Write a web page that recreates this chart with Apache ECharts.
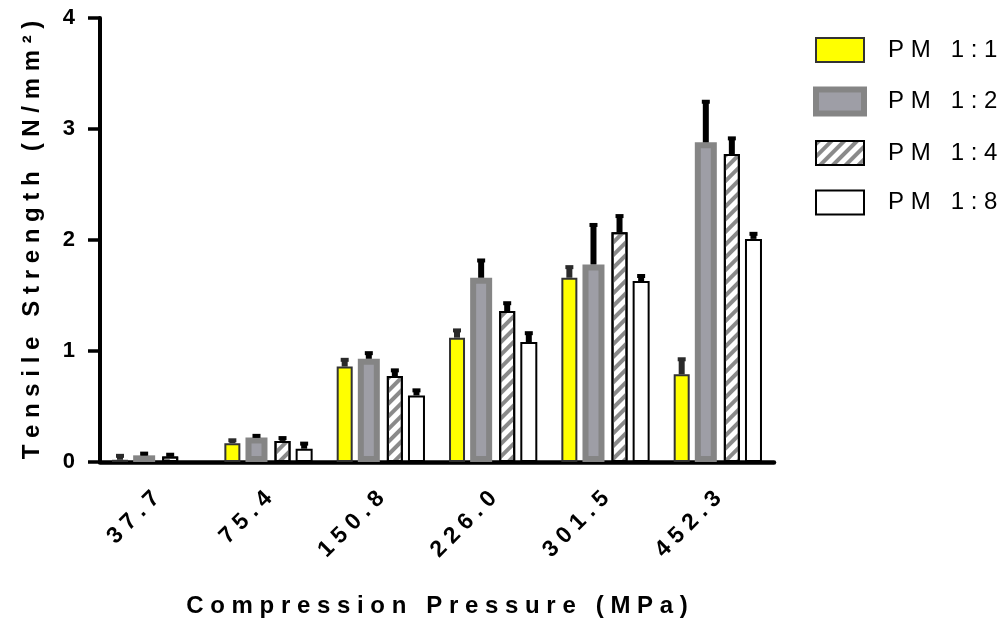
<!DOCTYPE html>
<html><head><meta charset="utf-8">
<script src="https://cdn.jsdelivr.net/npm/echarts@6/dist/echarts.min.js"></script>
<style>html,body{margin:0;padding:0;background:#fff}#c{width:1000px;height:623px}</style>
</head><body><div id="c"></div>
<script>
// ---- data ----
const categories = ['37.7', '75.4', '150.8', '226.0', '301.5', '452.3'];
const seriesNames = ['PM 1:1', 'PM 1:2', 'PM 1:4', 'PM 1:8'];
const pm11 = [0.02, 0.17, 0.86, 1.12, 1.66, 0.79];
const pm12 = [0.06, 0.22, 0.93, 1.66, 1.78, 2.88];
const pm14 = [0.05, 0.19, 0.775, 1.36, 2.07, 2.775];
const pm18 = [0, 0.12, 0.60, 1.08, 1.63, 2.01];
const err11 = [0.04, 0.03, 0.065, 0.07, 0.10, 0.14];
const err12 = [0.02, 0.02, 0.055, 0.16, 0.36, 0.37];
const err14 = [0.02, 0.03, 0.055, 0.075, 0.15, 0.145];
const err18 = [0, 0.05, 0.05, 0.085, 0.05, 0.05];
const yTicks = [0, 1, 2, 3, 4];
const xTitle = 'Compression Pressure (MPa)';
const yTitle = 'Tensile Strength (N/mm\u00B2)';

// ---- styling ----
const FONT = '"Liberation Sans", Arial, sans-serif';
const BAR_WIDTHS = [16, 22, 16, 17];
const GAP = 0.32;
const spaced = s => s.split('').join(' ');

// replicate ECharts side-by-side bar offsets so error bars sit on their bars
const offsets = (() => {
  let sum = 0;
  BAR_WIDTHS.forEach(w => { sum += w * (1 + GAP); });
  sum -= BAR_WIDTHS[BAR_WIDTHS.length - 1] * GAP;
  let off = -sum / 2;
  return BAR_WIDTHS.map(w => { const c = off + w / 2; off += w * (1 + GAP); return c; });
})();

const styles = [
  { color: '#ffff00', borderColor: '#333333', borderWidth: 2 },
  { color: '#9e9ea6', borderColor: '#858585', borderWidth: 6 },
  { color: '#ffffff', borderColor: '#000000', borderWidth: 2,
    decal: { symbol: 'rect', dashArrayX: [1, 0], dashArrayY: [4, 4.5], rotation: -Math.PI / 4, color: '#8a8a8a' } },
  { color: '#ffffff', borderColor: '#000000', borderWidth: 2 }
];
const vals = [pm11, pm12, pm14, pm18];
const errs = [err11, err12, err14, err18];

const series = [];
seriesNames.forEach((n, k) => {
  series.push({
    name: n, type: 'bar', barWidth: BAR_WIDTHS[k], barGap: (GAP * 100) + '%',
    data: vals[k].map(v => (v > 0 ? v : null)), itemStyle: styles[k], z: 2
  });
});
seriesNames.forEach((n, k) => {
  series.push({
    type: 'custom', z: 10, silent: true,
    data: vals[k].map((v, i) => [i, v, errs[k][i]]),
    renderItem(params, api) {
      const i = api.value(0), v = api.value(1), e = api.value(2);
      if (!(v > 0)) return null;
      const b = api.coord([i, v]);
      const t = api.coord([i, v + e]);
      const x = b[0] + offsets[k];
      const col = k === 0 ? '#2a2a2a' : '#000';
      return { type: 'group', children: [
        { type: 'rect', shape: { x: x - 3, y: t[1], width: 6, height: b[1] - t[1] }, style: { fill: col } },
        { type: 'rect', shape: { x: x - 4, y: t[1] - 1.5, width: 8, height: 4 }, style: { fill: col } }
      ]};
    }
  });
});

const chart = echarts.init(document.getElementById('c'), null, { renderer: 'canvas' });
chart.setOption({
  animation: false,
  backgroundColor: '#fff',
  grid: { left: 100, right: 226, top: 18, bottom: 161 },
  legend: {
    orient: 'vertical', left: 813, top: 37, padding: 0, icon: 'rect',
    itemWidth: 48, itemHeight: 24, itemGap: 23.5,
    data: [
      { name: seriesNames[0] },
      { name: seriesNames[1], itemStyle: { borderWidth: 6 } },
      { name: seriesNames[2] },
      { name: seriesNames[3] }
    ],
    formatter: n => spaced(n),
    textStyle: { fontSize: 24, color: '#000', fontFamily: FONT, padding: [0, 0, 0, 19] }
  },
  xAxis: {
    type: 'category', data: categories,
    name: spaced(xTitle), nameLocation: 'middle', nameGap: 132,
    nameTextStyle: { fontSize: 24, fontWeight: 'bold', color: '#000', fontFamily: FONT },
    axisLine: { lineStyle: { color: '#000', width: 4.5 } },
    axisTick: { alignWithLabel: true, length: 15, lineStyle: { color: '#000', width: 3.5 } },
    axisLabel: { rotate: 45, margin: 33, fontSize: 23, fontWeight: 'bold', color: '#000', fontFamily: FONT,
      formatter: v => spaced(v) }
  },
  yAxis: {
    type: 'value', min: yTicks[0], max: yTicks[yTicks.length - 1], interval: 1,
    name: spaced(yTitle), nameLocation: 'middle', nameGap: 56,
    nameTextStyle: { fontSize: 24, fontWeight: 'bold', color: '#000', fontFamily: FONT },
    axisLine: { show: true, lineStyle: { color: '#000', width: 4 } },
    axisTick: { show: true, length: 12, lineStyle: { color: '#000', width: 3.5 } },
    axisLabel: { margin: 25, fontSize: 22, fontWeight: 'bold', color: '#000', fontFamily: FONT },
    splitLine: { show: false }
  },
  series: series
});
</script>
</body></html>
